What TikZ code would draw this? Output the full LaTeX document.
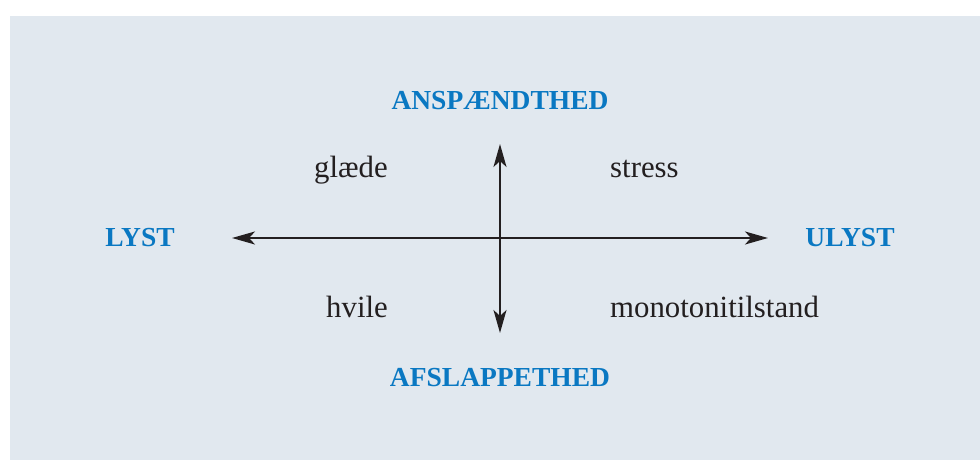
\documentclass[tikz,border=0pt]{standalone}
\usepackage{fontspec}
\setmainfont{Liberation Serif}
\usetikzlibrary{arrows.meta}
\definecolor{panel}{HTML}{E1E8EF}
\definecolor{axisblue}{HTML}{0A78C2}
\definecolor{ink}{HTML}{231F20}
\tikzset{
  pole/.style={inner sep=0pt, text=axisblue, font=\fontsize{27.5}{31}\selectfont\bfseries},
  word/.style={inner sep=0pt, text=ink, font=\fontsize{30.8}{35}\selectfont},
  axis/.style={draw=ink, line width=2.2pt, {Stealth[length=23pt,width=13pt,inset=6pt]}-{Stealth[length=23pt,width=13pt,inset=6pt]}}
}
\begin{document}
\begin{tikzpicture}[x=1pt,y=-1pt]
\useasboundingbox (0,0) rectangle (980,460);
\fill[panel] (10,16) rectangle (980,460);
% axis end points
\coordinate (L) at (232,238);
\coordinate (R) at (768,238);
\coordinate (T) at (500,144);
\coordinate (B) at (500,333);
\draw[axis] (L) -- (R);
\draw[axis] (T) -- (B);
% pole labels
\node[pole, anchor=base] (anspaend) at (500,109) {ANSPÆNDTHED};
\node[pole, anchor=base] (afslap) at (500,386) {AFSLAPPETHED};
\node[pole, anchor=base] (lyst) at (140,246) {LYST};
\node[pole, anchor=base] (ulyst) at (850,246) {ULYST};
% quadrant words
\node[word, anchor=base east] (glaede) at (388,177) {glæde};
\node[word, anchor=base west] (stress) at (610,177) {stress};
\node[word, anchor=base east] (hvile) at (388,317) {hvile};
\node[word, anchor=base west] (mono) at (610,317) {monotonitilstand};
\end{tikzpicture}
\end{document}
